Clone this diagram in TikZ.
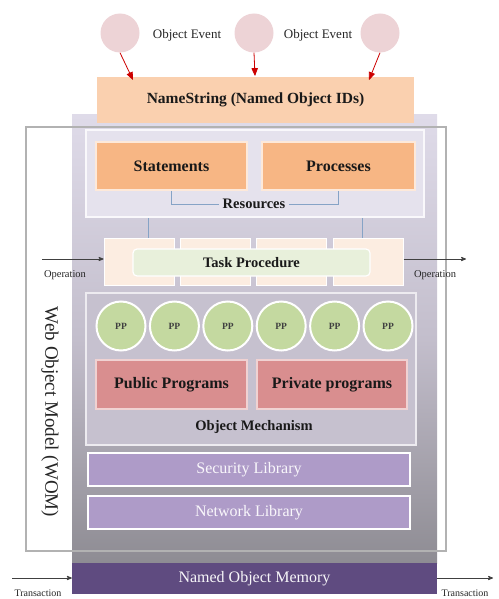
\documentclass[tikz,border=0pt]{standalone}
\usepackage{fontspec}
\setmainfont{Liberation Serif}
\usetikzlibrary{arrows,calc,positioning}
\definecolor{evpink}{HTML}{EDD3D6}
\definecolor{peach}{HTML}{FAD0AF}
\definecolor{orng}{HTML}{F7B684}
\definecolor{segpeach}{HTML}{FCEDE1}
\definecolor{taskgreen}{HTML}{E8F0DB}
\definecolor{ppgreen}{HTML}{C4D9A0}
\definecolor{progred}{HTML}{D98E8F}
\definecolor{libpurple}{HTML}{AE9BC8}
\definecolor{mempurple}{HTML}{5F4B80}
\definecolor{bracketblue}{HTML}{86A3C6}
\definecolor{lavtop}{HTML}{DFDBE9}
\definecolor{lavmid}{HTML}{C3BECC}
\definecolor{greybot}{HTML}{8E8C93}
\tikzset{
    event/.style =  {circle,
                    fill=evpink,
                    draw=none,
                    minimum size=39pt,
                    inner sep=0pt},
    namebox/.style ={rectangle,
                    fill=peach,
                    draw=none,
                    text=black!90,
                    font=\fontsize{15.5}{18}\selectfont\bfseries},
    panel/.style =  {rectangle,
                    draw=white!80!lavtop,
                    line width=2pt},
    resbox/.style = {rectangle,
                    fill=orng,
                    draw=white!70!orng,
                    line width=1.5pt,
                    text=black!90,
                    minimum width=151pt,
                    minimum height=48pt,
                    font=\fontsize{16}{18}\selectfont\bfseries},
    taskseg/.style ={rectangle,
                    fill=segpeach,
                    draw=white,
                    line width=1pt,
                    minimum width=70pt,
                    minimum height=47pt},
    taskbox/.style ={rectangle,
                    rounded corners=4pt,
                    fill=taskgreen,
                    draw=white,
                    line width=1.2pt,
                    text=black!90,
                    minimum width=237pt,
                    minimum height=27pt,
                    font=\fontsize{14.5}{16}\selectfont\bfseries},
    pp/.style =     {circle,
                    fill=ppgreen,
                    draw=white,
                    line width=2pt,
                    text=black!75,
                    minimum size=49pt,
                    inner sep=0pt,
                    font=\fontsize{9.5}{10}\selectfont\bfseries},
    progbox/.style ={rectangle,
                    fill=progred,
                    draw=white!60!progred,
                    line width=1.5pt,
                    text=black!90,
                    minimum width=150pt,
                    minimum height=49pt,
                    font=\fontsize{16}{18}\selectfont\bfseries},
    libbox/.style = {rectangle,
                    fill=libpurple,
                    draw=white,
                    line width=1.5pt,
                    text=white!92!libpurple,
                    minimum width=322pt,
                    minimum height=33pt,
                    font=\fontsize{16}{18}\selectfont},
    lbl/.style =    {text=black!85,
                    inner sep=1pt},
    small/.style =  {lbl,
                    font=\fontsize{10.5}{12}\selectfont},
    -,
    >=stealth',
    x=1pt,
    y=-1pt}

\begin{document}
\begin{tikzpicture}
    \useasboundingbox (0,0) rectangle (498,599);
    % background column and model frame
    \fill[white] (26,127) rectangle (446,551);
    \shade[top color=lavtop,bottom color=greybot,middle color=lavmid] (72,115) rectangle (437,563);
    \draw[black!30,line width=1.8pt] (26,127) rectangle (446,551);
    \node[rotate=-90,lbl,font=\fontsize{19}{22}\selectfont] (wom) at (50,412) {Web Object Model (WOM)};

    % events and names
    \node[event] (ev1) at (120,33) {};
    \node[event] (ev2) at (254,33) {};
    \node[event] (ev3) at (380,33) {};
    \node[lbl,font=\fontsize{13}{15}\selectfont] (evl1) at (187,35) {Object Event};
    \node[lbl,font=\fontsize{13}{15}\selectfont] (evl2) at (318,35) {Object Event};
    \node[namebox,minimum width=317pt,minimum height=46pt] (names) at (255.5,100) {NameString (Named Object IDs)};
    \coordinate (tip1) at (133,80);
    \coordinate (tip2) at (255,76);
    \coordinate (tip3) at (369,80);
    \path [thick,red!80!black,-triangle 45] (ev1.south) edge (tip1)
                                  (ev2.south) edge (tip2)
                                  (ev3.south) edge (tip3);

    % resources
    \node[panel,fill=lavtop!80!white,minimum width=338pt,minimum height=87pt] (respanel) at (255,173.5) {};
    \node[resbox] (stmt) at (171.5,166) {Statements};
    \node[resbox,minimum width=153pt] (proc) at (338.5,166) {Processes};
    \node[lbl,text=black!90,font=\fontsize{14.5}{16}\selectfont\bfseries,inner sep=4pt] (res) at (254,204) {Resources};
    \draw[bracketblue,thick] (stmt.south) |- (res.west);
    \draw[bracketblue,thick] (proc.south) |- (res.east);

    % task procedure
    \foreach \i/\x in {1/139,2/215.5,3/291,4/368}
        \node[taskseg] (seg\i) at (\x,261.5) {};
    \node[taskbox] (task) at (251.5,262.5) {Task Procedure};
    \draw[bracketblue,thick] ([xshift=9pt]seg1.north |- respanel.south) -- ([xshift=9pt]seg1.north);
    \draw[bracketblue,thick] ([xshift=-6pt]seg4.north |- respanel.south) -- ([xshift=-6pt]seg4.north);
    \coordinate (opin) at (42,259);
    \coordinate (opout) at (466,259);
    \draw[thick,black!75,->] (opin) -- (opin -| seg1.west);
    \draw[thick,black!75,->] (opout -| seg4.east) -- (opout);
    \node[small] (opl1) at (65,275) {Operation};
    \node[small] (opl2) at (435,275) {Operation};

    % object mechanism
    \node[panel,fill=lavmid!95!white,draw=white!70!lavmid,minimum width=330pt,minimum height=152pt] (mech) at (251,369) {};
    \foreach \i in {0,...,5}
        \node[pp] (pp\i) at (121+53.4*\i,326) {PP};
    \node[progbox,minimum width=151pt] (pub) at (171.5,384.5) {Public Programs};
    \node[progbox] (priv) at (332,384.5) {Private programs};
    \node[lbl,text=black!90,font=\fontsize{14.5}{16}\selectfont\bfseries] (mechl) at (254,427) {Object Mechanism};

    % libraries
    \node[libbox] (sec) at (249,469.5) {Security Library};
    \node[libbox] (net) at (249,512.5) {Network Library};

    % memory
    \node[rectangle,fill=mempurple,text=white!95!mempurple,minimum width=365pt,minimum height=31pt,
          font=\fontsize{16}{18}\selectfont] (mem) at (254.5,578.5) {Named Object Memory};
    \coordinate (trin) at (12,578);
    \coordinate (trout) at (493,578);
    \draw[thick,black!75,->] (trin) -- (trin -| mem.west);
    \draw[thick,black!75,->] (trout -| mem.east) -- (trout);
    \node[small,font=\fontsize{10}{12}\selectfont] (trl1) at (38,593) {Transaction};
    \node[small,font=\fontsize{10}{12}\selectfont] (trl2) at (465,593) {Transaction};
\end{tikzpicture}
\end{document}
